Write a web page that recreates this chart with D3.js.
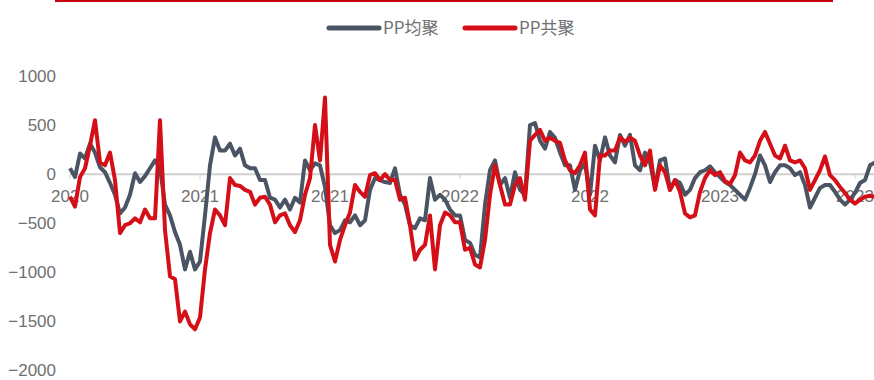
<!DOCTYPE html>
<html>
<head>
<meta charset="utf-8">
<script src="https://cdn.jsdelivr.net/npm/d3@7"></script>
<style>
  body { margin: 0; background: #fff; }
  svg { display: block; }
</style>
</head>
<body>
<div id="chart"></div>
<script>
var width = 874, height = 380;

var seriesNames = ["PP均聚", "PP共聚"],
    colors = ["#4a5462", "#d40f17"],
    xTickLabels = ["2020", "2021", "2021", "2022", "2022", "2023", "2023"],
    xTickIndex = [0, 26, 52, 78, 104, 130, 157],
    yTicks = [-2000, -1500, -1000, -500, 0, 500, 1000];

// PP均聚, one value every ~5px along the axis
var homo = [
  60, -30, 210, 160, 310, 220, 70, 20, -90, -210,
  -400, -340, -210, 10, -80, -20, 60, 140, 60, -310,
  -420, -590, -720, -970, -790, -970, -890, -420, 90, 375,
  240, 240, 310, 190, 260, 90, 60, 60, -60, -60,
  -240, -260, -340, -260, -360, -240, -290, 140, 40, 110,
  90, -130, -520, -600, -570, -470, -490, -420, -520, -470,
  -160, -40, -60, -80, -90, 60, -210, -310, -520, -550,
  -450, -470, -40, -260, -210, -260, -360, -420, -420, -670,
  -700, -820, -850, -310, 40, 140, -110, -40, -240, 20,
  -160, -210, 500, 520, 340, 260, 430, 370, 220, 90,
  90, -160, 40, 110, -210, 290, 140, 375, 190, 120,
  400, 290, 400, 90, 40, 220, 120, -140, 140, 160,
  -160, -60, -90, -210, -160, -40, 20, 40, 80, 20,
  -30, -80, -110, -160, -210, -260, -140, 0, 190, 90,
  -80, 20, 90, 90, 60, -10, 20, -110, -340, -240,
  -140, -110, -110, -180, -260, -310, -260, -190, -90, -60,
  90, 120
];

// PP共聚
var copo = [
  -230, -330, -30, 60, 290, 550, 120, 90, 220, -60,
  -600, -520, -500, -450, -490, -360, -450, -450, 550, -570,
  -1040, -1070, -1500, -1400, -1530, -1580, -1460, -970, -600, -360,
  -420, -520, -40, -110, -120, -160, -180, -310, -240, -230,
  -310, -490, -420, -400, -520, -590, -470, -210, -40, 500,
  140, 780, -720, -890, -670, -520, -390, -110, -180, -230,
  -10, 10, -60, 0, -60, -60, -260, -240, -520, -870,
  -770, -720, -420, -970, -520, -390, -420, -490, -490, -770,
  -750, -920, -950, -670, -210, 90, -110, -310, -310, -110,
  -40, -260, 340, 400, 450, 340, 370, 340, 320, 140,
  40, 10, 90, 220, -360, -420, 190, 190, 240, 240,
  375, 330, 370, 340, 190, 90, 240, -160, 90, 20,
  -160, -60, -180, -400, -440, -420, -180, -40, 40, -10,
  20, -70, -100, -10, 220, 140, 120, 190, 340, 430,
  310, 190, 160, 290, 140, 120, 140, 60, -160, -60,
  40, 180, -10, -60, -130, -190, -260, -300, -260, -230,
  -220, -230
];

var svg = d3.select("#chart").append("svg")
    .attr("width", width)
    .attr("height", height);

var x = d3.scaleLinear().domain([0, 160]).range([70, 870]);
var y = d3.scaleLinear().domain([-2000, 1000]).range([370.5, 76]);

// red rule across the top
svg.append("line")
    .attr("x1", 55).attr("x2", 833)
    .attr("y1", 1).attr("y2", 1)
    .style("stroke", "#c8000a")
    .style("stroke-width", 2);

// y axis labels only
var yAxis = svg.append("g")
    .attr("transform", "translate(56,0)")
    .call(d3.axisLeft(y).tickValues(yTicks).tickSize(0).tickPadding(0).tickFormat(d3.format("d")));
yAxis.select(".domain").remove();
yAxis.selectAll("text")
    .style("font-family", "'Liberation Sans', Arial, sans-serif")
    .style("font-size", "17px")
    .style("fill", "#707070");

// zero line with year ticks
svg.append("line")
    .attr("x1", x(0)).attr("x2", width)
    .attr("y1", y(0)).attr("y2", y(0))
    .style("stroke", "#d0d0d0")
    .style("stroke-width", 2);

svg.selectAll(".xtick")
    .data(xTickIndex)
    .enter().append("line")
    .attr("class", "xtick")
    .attr("x1", function(d) { return x(d); })
    .attr("x2", function(d) { return x(d); })
    .attr("y1", y(0))
    .attr("y2", y(0) + 5)
    .style("stroke", "#d0d0d0")
    .style("stroke-width", 1);

svg.selectAll(".xlabel")
    .data(xTickIndex)
    .enter().append("text")
    .attr("class", "xlabel")
    .attr("x", function(d) { return x(d); })
    .attr("y", y(0) + 27.5)
    .attr("text-anchor", "middle")
    .style("font-family", "'Liberation Sans', Arial, sans-serif")
    .style("font-size", "17px")
    .style("fill", "#707070")
    .text(function(d, i) { return xTickLabels[i]; });

var line = d3.line()
    .x(function(d, i) { return x(i); })
    .y(function(d) { return y(d); });

[homo, copo].forEach(function(s, k) {
  svg.append("path")
      .datum(s)
      .attr("d", line)
      .style("fill", "none")
      .style("stroke", colors[k])
      .style("stroke-width", 4)
      .style("stroke-linejoin", "round");
});

// legend
var legendX = [327, 463];
var legend = svg.selectAll(".legend")
    .data(seriesNames)
    .enter().append("g")
    .attr("class", "legend")
    .attr("transform", function(d, i) { return "translate(" + legendX[i] + ",28)"; });

legend.append("line")
    .attr("x1", 2).attr("x2", 52)
    .attr("y1", 0).attr("y2", 0)
    .style("stroke", function(d, i) { return colors[i]; })
    .style("stroke-width", 5)
    .style("stroke-linecap", "round");

legend.append("text")
    .attr("x", 56)
    .attr("y", 0)
    .attr("dy", "0.35em")
    .style("font-family", "'Noto Sans CJK SC', sans-serif")
    .style("font-size", "17px")
    .style("fill", "#707070")
    .text(function(d) { return d; });
</script>
</body>
</html>
